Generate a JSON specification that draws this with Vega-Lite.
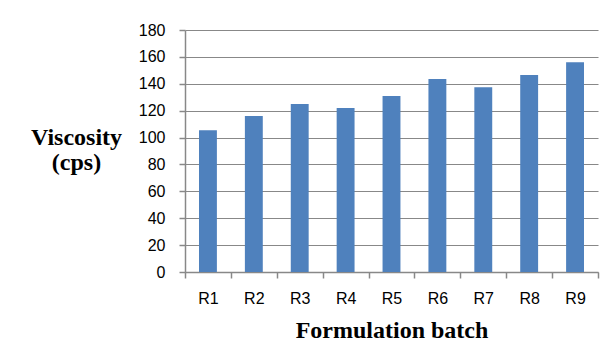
{
  "$schema": "https://vega.github.io/schema/vega-lite/v6.json",
  "autosize": {"type": "none"},
  "padding": {"left": 185, "top": 30, "right": 9, "bottom": 88},
  "width": 413,
  "height": 242,
  "background": "white",
  "config": {"view": {"stroke": null}},
  "data": {
    "values": [
      {"batch": "R1", "viscosity": 105.5},
      {"batch": "R2", "viscosity": 116},
      {"batch": "R3", "viscosity": 125},
      {"batch": "R4", "viscosity": 122},
      {"batch": "R5", "viscosity": 131},
      {"batch": "R6", "viscosity": 143.5},
      {"batch": "R7", "viscosity": 137.5},
      {"batch": "R8", "viscosity": 146.5},
      {"batch": "R9", "viscosity": 156}
    ]
  },
  "mark": {"type": "bar", "color": "#4f81bd", "width": {"band": 0.39}},
  "encoding": {
    "x": {
      "field": "batch",
      "type": "nominal",
      "sort": null,
      "scale": {"paddingInner": 0, "paddingOuter": 0},
      "axis": {
        "title": "Formulation batch",
        "titleFont": "Liberation Serif",
        "titleFontWeight": "bold",
        "titleFontSize": 24,
        "titleColor": "black",
        "titleBaseline": "alphabetic",
        "titleY": 65,
        "labelAngle": 0,
        "labelFont": "Liberation Sans",
        "labelFontSize": 16,
        "labelColor": "black",
        "labelPadding": 12,
        "tickBand": "extent",
        "tickSize": 6,
        "tickColor": "#888888",
        "domainColor": "#888888",
        "domainWidth": 1.5,
        "tickWidth": 1.5,
        "grid": false
      }
    },
    "y": {
      "field": "viscosity",
      "type": "quantitative",
      "scale": {"domain": [0, 180], "nice": false},
      "axis": {
        "values": [0, 20, 40, 60, 80, 100, 120, 140, 160, 180],
        "title": ["Viscosity", "(cps)"],
        "titleFont": "Liberation Serif",
        "titleFontWeight": "bold",
        "titleFontSize": 24,
        "titleColor": "black",
        "titleAngle": 0,
        "titleAlign": "center",
        "titleBaseline": "alphabetic",
        "titleLineHeight": 25,
        "titleX": -109,
        "titleY": 114,
        "labelFont": "Liberation Sans",
        "labelFontSize": 16,
        "labelColor": "black",
        "labelPadding": 14,
        "tickSize": 6,
        "tickColor": "#888888",
        "tickWidth": 1.5,
        "domainColor": "#888888",
        "domainWidth": 1.5,
        "grid": true,
        "gridColor": "#888888",
        "gridWidth": 1.2,
        "gridOpacity": 1
      }
    }
  }
}
